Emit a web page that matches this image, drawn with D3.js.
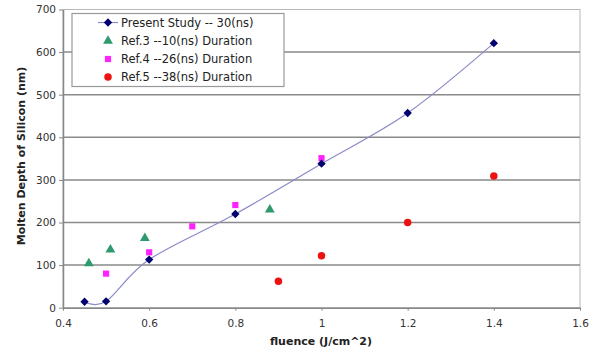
<!DOCTYPE html>
<html>
<head>
<meta charset="utf-8">
<script src="https://cdn.jsdelivr.net/npm/d3@7"></script>
<style>
body { margin:0; background:#fff; }
text { font-family: "DejaVu Sans", Verdana, sans-serif; }
</style>
</head>
<body>
<div id="chart"></div>
<script>
// data
var studyX = [0.45, 0.5, 0.6, 0.8, 1.0, 1.2, 1.4];
var studyY = [14, 15, 113, 220, 338, 457, 621];
var ref3X = [0.46, 0.51, 0.59, 0.88];
var ref3Y = [104, 136, 163, 230];
var ref4X = [0.5, 0.6, 0.7, 0.8, 1.0];
var ref4Y = [80, 130, 191, 241, 351];
var ref5X = [0.9, 1.0, 1.2, 1.4];
var ref5Y = [62, 122, 200, 309];
var xTicks = [0.4, 0.6, 0.8, 1, 1.2, 1.4, 1.6];
var yTicks = [0, 100, 200, 300, 400, 500, 600, 700];
var legendLabels = ['Present Study -- 30(ns)', 'Ref.3 --10(ns) Duration', 'Ref.4 --26(ns) Duration', 'Ref.5 --38(ns) Duration'];

var chart_width = 593;
var chart_height = 349;
var pLeft = 63, pRight = 580, pTop = 9.5, pBottom = 307.7;

var svg = d3.select('#chart')
	.append('svg')
	.attr('width', chart_width)
	.attr('height', chart_height);

var x = d3.scaleLinear().domain([0.4, 1.6]).range([pLeft, pRight]);
var y = d3.scaleLinear().domain([0, 700]).range([pBottom, pTop]);

// plot frame
svg.append('rect')
	.attr('x', pLeft).attr('y', pTop)
	.attr('width', pRight - pLeft).attr('height', pBottom - pTop)
	.attr('fill', '#fff')
	.attr('stroke', '#b8b8b8')
	.attr('stroke-width', 1);

// gridlines
svg.selectAll('.grid')
	.data(yTicks.filter(function(d){ return d > 0 && d < 700; }))
	.enter()
	.append('line')
	.attr('x1', pLeft).attr('x2', pRight)
	.attr('y1', function(d){ return y(d); })
	.attr('y2', function(d){ return y(d); })
	.attr('stroke', '#8a8a8a')
	.attr('stroke-width', 1.5);

// axes
var xAxis = svg.append('g')
	.attr('transform', 'translate(0,' + pBottom + ')')
	.call(d3.axisBottom(x).tickValues(xTicks).tickSize(3).tickSizeOuter(0)
		.tickFormat(function(d){ return String(d); }));
var yAxis = svg.append('g')
	.attr('transform', 'translate(' + pLeft + ',0)')
	.call(d3.axisLeft(y).tickValues(yTicks).tickSize(4).tickSizeOuter(0));

[xAxis, yAxis].forEach(function(g){
	g.select('.domain').attr('stroke', '#888').attr('stroke-width', 1.5);
	g.selectAll('.tick line').attr('stroke', '#888');
	g.selectAll('.tick text')
		.attr('fill', '#333')
		.attr('font-size', 10.5)
		.attr('font-family', '"DejaVu Sans", Verdana, sans-serif');
});
xAxis.selectAll('.tick text').attr('dy', '1.3em');
yAxis.selectAll('.tick text').attr('x', -7);

// axis titles
svg.append('text')
	.text('fluence (J/cm^2)')
	.attr('x', 321).attr('y', 345)
	.attr('text-anchor', 'middle')
	.attr('font-size', 11)
	.attr('font-weight', 'bold')
	.attr('fill', '#222');
svg.append('text')
	.text('Molten Depth of Silicon (nm)')
	.attr('transform', 'translate(25,156) rotate(-90)')
	.attr('text-anchor', 'middle')
	.attr('font-size', 11)
	.attr('font-weight', 'bold')
	.attr('fill', '#222');

// smooth line for present study
var studyData = studyX.map(function(d, i){ return [d, studyY[i]]; });
svg.append('path')
	.datum(studyData)
	.attr('fill', 'none')
	.attr('stroke', '#8a8ac8')
	.attr('stroke-width', 1.2)
	.attr('d', d3.line()
		.x(function(d){ return x(d[0]); })
		.y(function(d){ return y(d[1]); })
		.curve(d3.curveCardinal.tension(0)));

function pairs(xs, ys){
	return xs.map(function(d, i){ return [d, ys[i]]; });
}

var diamond = d3.symbol().type(d3.symbolDiamond2).size(44);
var triangle = d3.symbol().type(d3.symbolTriangle).size(42);
var square = d3.symbol().type(d3.symbolSquare).size(38);
var circle = d3.symbol().type(d3.symbolCircle).size(44);

function drawPoints(data, sym, color){
	svg.append('g').selectAll('path')
		.data(data)
		.enter()
		.append('path')
		.attr('d', sym)
		.attr('fill', color)
		.attr('transform', function(d){
			return 'translate(' + x(d[0]) + ',' + y(d[1]) + ')';
		});
}
drawPoints(pairs(ref3X, ref3Y), triangle, '#2e9a6e');
drawPoints(pairs(ref4X, ref4Y), square, '#ff22ff');
drawPoints(pairs(ref5X, ref5Y), circle, '#ee1111');
drawPoints(studyData, diamond, '#00006e');

// legend
var legend = svg.append('g');
legend.append('rect')
	.attr('x', 72).attr('y', 13.5)
	.attr('width', 212).attr('height', 73)
	.attr('fill', '#fff')
	.attr('stroke', '#999')
	.attr('stroke-width', 1.2);
var rowY = [22.5, 41, 59, 77];
var syms = [diamond, triangle, square, circle];
var cols = ['#00006e', '#2e9a6e', '#ff22ff', '#ee1111'];
legend.append('line')
	.attr('x1', 98).attr('x2', 118)
	.attr('y1', rowY[0]).attr('y2', rowY[0])
	.attr('stroke', '#8a8ac8').attr('stroke-width', 1.2);
legend.selectAll('.sym')
	.data(legendLabels)
	.enter()
	.append('path')
	.attr('d', function(d, i){ return syms[i](); })
	.attr('fill', function(d, i){ return cols[i]; })
	.attr('transform', function(d, i){ return 'translate(108,' + rowY[i] + ')'; });
legend.selectAll('.lab')
	.data(legendLabels)
	.enter()
	.append('text')
	.text(function(d){ return d; })
	.attr('x', 121)
	.attr('y', function(d, i){ return rowY[i]; })
	.attr('dy', '0.35em')
	.attr('font-size', 11.5)
	.attr('fill', '#222');
</script>
</body>
</html>
